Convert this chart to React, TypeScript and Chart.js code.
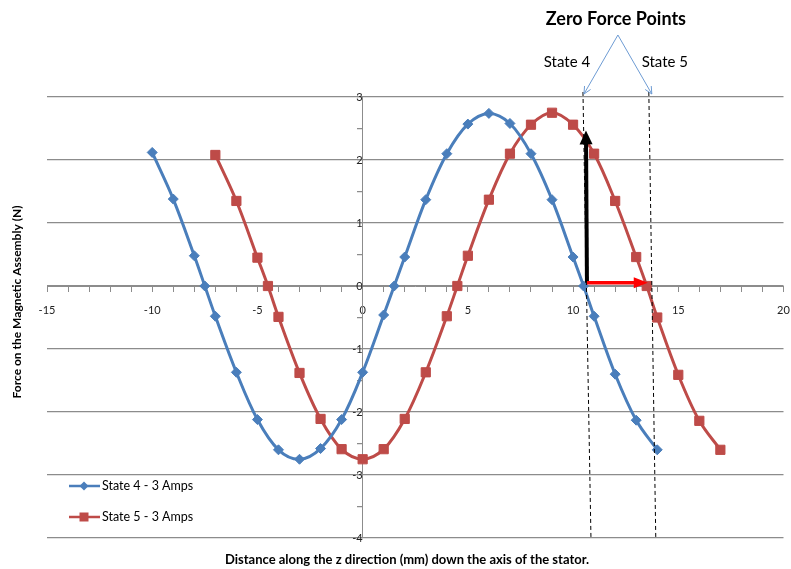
import React, { useEffect, useRef } from 'react';
import { Chart, registerables } from 'chart.js';

Chart.register(...registerables);

// ---- data ----
const state4X = [-10, -9, -8, -7.5, -7, -6, -5, -4, -3, -2, -1, 0, 1, 1.5, 2, 3, 4, 5, 6, 7, 8, 9, 10, 10.5, 11, 12, 13, 14];
const state4Y = [2.12, 1.38, 0.48, 0, -0.48, -1.37, -2.12, -2.6, -2.75, -2.58, -2.12, -1.37, -0.46, 0, 0.46, 1.37, 2.1, 2.57, 2.74, 2.58, 2.1, 1.37, 0.46, 0, -0.48, -1.4, -2.13, -2.6];
const state5X = [-7, -6, -5, -4.5, -4, -3, -2, -1, 0, 1, 2, 3, 4, 4.5, 5, 6, 7, 8, 9, 10, 11, 12, 13, 13.5, 14, 15, 16, 17];
const state5Y = [2.08, 1.35, 0.45, 0, -0.49, -1.38, -2.11, -2.59, -2.75, -2.59, -2.11, -1.37, -0.48, 0, 0.48, 1.37, 2.1, 2.56, 2.75, 2.56, 2.1, 1.35, 0.46, 0, -0.5, -1.41, -2.14, -2.6];

const seriesNames = ['State 4 - 3 Amps', 'State 5 - 3 Amps'];
const xRange = [-15, 20];
const yRange = [-4, 3];
const xTitle = 'Distance along the z direction (mm) down the axis of the stator.';
const yTitle = 'Force on the Magnetic Assembly (N)';
const noteTitle = 'Zero Force Points';
const noteLabels = ['State 4', 'State 5'];
// zero-force marker lines: [x at top, x at bottom]
const zeroLineState4 = [10.47, 10.85];
const zeroLineState5 = [13.6, 13.93];
// arrows: black vertical (x, y0 -> y1), red horizontal (y, x0 -> x1)
const blackArrow = [10.66, 0.05, 2.47];
const redArrow = [0.05, 10.66, 13.55];

const BLUE = '#4A7EBB';
const RED = '#BE4B48';
const GRID = '#8C8C8C';
const FONT = 'Lato, "Open Sans", sans-serif';

function mkData(xs: number[], ys: number[]) {
  return xs.map((x, i) => ({ x, y: ys[i] }));
}

function arrow(ctx: CanvasRenderingContext2D, x1: number, y1: number, x2: number, y2: number, w: number, hl: number, hw: number, color: string) {
  const ang = Math.atan2(y2 - y1, x2 - x1);
  const bx = x2 - hl * Math.cos(ang);
  const by = y2 - hl * Math.sin(ang);
  ctx.strokeStyle = color;
  ctx.fillStyle = color;
  ctx.lineWidth = w;
  ctx.setLineDash([]);
  ctx.beginPath();
  ctx.moveTo(x1, y1);
  ctx.lineTo(bx + Math.cos(ang), by + Math.sin(ang));
  ctx.stroke();
  ctx.beginPath();
  ctx.moveTo(x2, y2);
  ctx.lineTo(bx + hw * Math.sin(ang), by - hw * Math.cos(ang));
  ctx.lineTo(bx - hw * Math.sin(ang), by + hw * Math.cos(ang));
  ctx.closePath();
  ctx.fill();
}

function openArrow(ctx: CanvasRenderingContext2D, x1: number, y1: number, x2: number, y2: number, color: string) {
  const ang = Math.atan2(y2 - y1, x2 - x1);
  ctx.strokeStyle = color;
  ctx.lineWidth = 1;
  ctx.setLineDash([]);
  ctx.beginPath();
  ctx.moveTo(x1, y1);
  ctx.lineTo(x2, y2);
  ctx.stroke();
  const hl = 8, spread = 0.45;
  ctx.beginPath();
  ctx.moveTo(x2 - hl * Math.cos(ang - spread), y2 - hl * Math.sin(ang - spread));
  ctx.lineTo(x2, y2);
  ctx.lineTo(x2 - hl * Math.cos(ang + spread), y2 - hl * Math.sin(ang + spread));
  ctx.stroke();
}

const annotations = {
  id: 'annotations',
  afterDatasetsDraw(chart: any) {
    const { ctx, chartArea } = chart;
    const xs = chart.scales.x;
    const ys = chart.scales.y;
    ctx.save();

    // dashed zero-force lines
    ctx.strokeStyle = '#000';
    ctx.lineWidth = 1;
    ctx.setLineDash([4, 3]);
    const tops: number[] = [];
    for (const [t, b] of [zeroLineState4, zeroLineState5]) {
      const xt = xs.getPixelForValue(t);
      const xb = xs.getPixelForValue(b);
      tops.push(xt);
      ctx.beginPath();
      ctx.moveTo(xt, chartArea.top - 5);
      ctx.lineTo(xb, chartArea.bottom);
      ctx.stroke();
    }

    // black and red arrows
    arrow(ctx, xs.getPixelForValue(blackArrow[0]), ys.getPixelForValue(blackArrow[1]),
      xs.getPixelForValue(blackArrow[0]) - 1, ys.getPixelForValue(blackArrow[2]), 4, 14, 6.5, '#000');
    arrow(ctx, xs.getPixelForValue(redArrow[1]), ys.getPixelForValue(redArrow[0]),
      xs.getPixelForValue(redArrow[2]), ys.getPixelForValue(redArrow[0]), 3.5, 14, 5.5, '#FF0000');

    // callout arrows
    const apexX = (tops[0] + tops[1]) / 2 + 2;
    const apexY = 35;
    openArrow(ctx, apexX, apexY, tops[0] + 1, chartArea.top - 3, '#6D9BD3');
    openArrow(ctx, apexX, apexY, tops[1] + 3, chartArea.top - 3, '#6D9BD3');

    // callout texts
    ctx.fillStyle = '#000';
    ctx.textAlign = 'center';
    ctx.textBaseline = 'middle';
    ctx.font = `bold 18px ${FONT}`;
    ctx.fillText(noteTitle, apexX - 2, 19);
    ctx.font = `15px ${FONT}`;
    ctx.fillText(noteLabels[0], tops[0] - 16, 62);
    ctx.fillText(noteLabels[1], tops[1] + 16, 62);

    // axis titles
    ctx.font = `bold 13px ${FONT}`;
    ctx.fillText(xTitle, 407, 560);
    ctx.save();
    ctx.translate(17, 302);
    ctx.rotate(-Math.PI / 2);
    ctx.font = `bold 12px ${FONT}`;
    ctx.fillText(yTitle, 0, 0);
    ctx.restore();

    // legend
    const items = [
      { y: 486, color: BLUE, shape: 'diamond', label: seriesNames[0] },
      { y: 517, color: RED, shape: 'square', label: seriesNames[1] },
    ];
    ctx.textAlign = 'left';
    ctx.font = `12.5px ${FONT}`;
    for (const it of items) {
      ctx.strokeStyle = it.color;
      ctx.fillStyle = it.color;
      ctx.lineWidth = 2.5;
      ctx.setLineDash([]);
      ctx.beginPath();
      ctx.moveTo(69, it.y);
      ctx.lineTo(100, it.y);
      ctx.stroke();
      ctx.beginPath();
      if (it.shape === 'diamond') {
        ctx.moveTo(84, it.y - 4.5);
        ctx.lineTo(88.5, it.y);
        ctx.lineTo(84, it.y + 4.5);
        ctx.lineTo(79.5, it.y);
        ctx.closePath();
      } else {
        ctx.rect(79.5, it.y - 4.5, 9, 9);
      }
      ctx.fill();
      ctx.fillStyle = '#000';
      ctx.fillText(it.label, 102, it.y);
    }
    ctx.restore();
  },
};

export default function App() {
  const ref = useRef<HTMLCanvasElement>(null);
  useEffect(() => {
    if (!ref.current) return;
    const chart = new Chart(ref.current, {
      type: 'line',
      data: {
        datasets: [
          {
            label: seriesNames[0],
            data: mkData(state4X, state4Y),
            borderColor: BLUE,
            backgroundColor: BLUE,
            borderWidth: 3,
            pointStyle: 'rectRot',
            pointRadius: 5,
            pointBorderWidth: 1,
            tension: 0.35,
          },
          {
            label: seriesNames[1],
            data: mkData(state5X, state5Y),
            borderColor: RED,
            backgroundColor: RED,
            borderWidth: 3,
            pointStyle: 'rect',
            pointRadius: 6.5,
            pointBorderWidth: 1,
            tension: 0.35,
          },
        ],
      },
      options: {
        animation: false,
        responsive: false,
        devicePixelRatio: 1,
        layout: { padding: { left: 47, right: 2, top: 97, bottom: 31 } },
        plugins: { legend: { display: false }, tooltip: { enabled: false } },
        scales: {
          x: {
            type: 'linear',
            position: { y: 0 } as any,
            min: xRange[0],
            max: xRange[1],
            ticks: {
              stepSize: 1,
              autoSkip: false,
              maxRotation: 0,
              padding: 0,
              color: '#222',
              font: { family: FONT, size: 11, lineHeight: 3.45 },
              callback: (v: any) => (Number(v) % 5 === 0 ? String(v) : ''),
            },
            grid: { drawOnChartArea: false, drawTicks: true, tickLength: 5, tickColor: GRID },
            border: { color: GRID, width: 1 },
          },
          y: {
            type: 'linear',
            position: { x: 0 } as any,
            min: yRange[0],
            max: yRange[1],
            ticks: {
              stepSize: 0.5,
              autoSkip: false,
              padding: 9,
              color: '#222',
              font: { family: FONT, size: 11 },
              callback: (v: any) => (Number.isInteger(Number(v)) ? String(v) : ''),
            },
            grid: {
              color: (c: any) => (Number.isInteger(c.tick?.value) ? GRID : 'rgba(0,0,0,0)'),
              tickColor: GRID,
              tickLength: 5,
              lineWidth: 1.25,
            },
            border: { color: GRID, width: 1 },
          },
        },
      },
      plugins: [annotations],
    });
    return () => chart.destroy();
  }, []);
  return (
    <div style={{ position: 'fixed', left: 0, top: 0, width: 791, height: 569, background: '#fff' }}>
      <canvas ref={ref} width={791} height={569} />
    </div>
  );
}
